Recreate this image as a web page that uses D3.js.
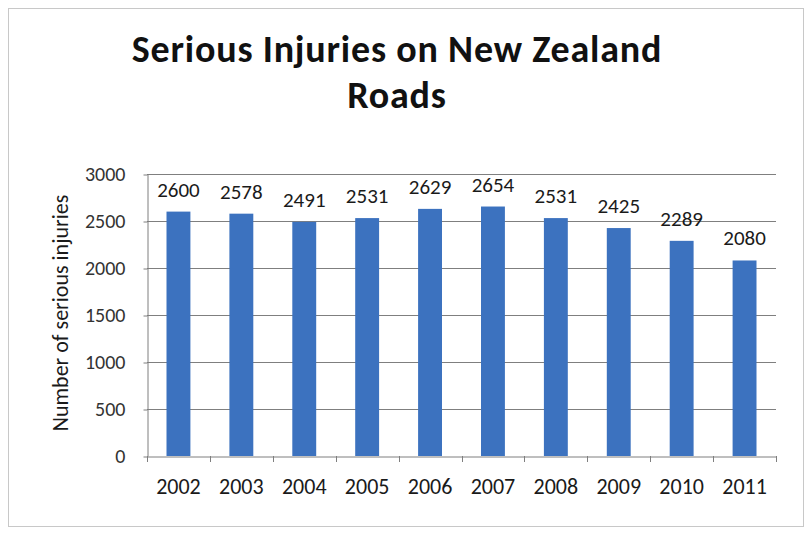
<!DOCTYPE html>
<html>
<head>
<meta charset="utf-8">
<script src="https://cdn.jsdelivr.net/npm/d3@7"></script>
<style>
  html, body { margin: 0; padding: 0; background: #fff; }
  svg { display: block; }
</style>
</head>
<body>
<svg id="chart" width="809" height="535"></svg>
<script>
// Serious injuries per year on New Zealand roads
const years = ["2002","2003","2004","2005","2006","2007","2008","2009","2010","2011"];
const injuries = [2600, 2578, 2491, 2531, 2629, 2654, 2531, 2425, 2289, 2080];
const yTicks = [0, 500, 1000, 1500, 2000, 2500, 3000];
const titleLines = ["Serious Injuries on New Zealand", "Roads"];
const yLabel = "Number of serious injuries";

const svg = d3.select("#chart");
const font = "Calibri, Carlito, 'Open Sans', 'DejaVu Sans', sans-serif";
const axisGrey = "#7f7f7f";

// outer frame
svg.append("rect")
  .attr("x", 8.5).attr("y", 8.5)
  .attr("width", 795).attr("height", 518)
  .attr("fill", "#fff").attr("stroke", "#c8c8c8").attr("stroke-width", 1);

const plot = { left: 147, right: 776, top: 174, bottom: 456 };

const x = d3.scaleBand()
  .domain(years)
  .range([plot.left, plot.right])
  .paddingInner(0.62)
  .paddingOuter(0.31);

const y = d3.scaleLinear()
  .domain([0, 3000])
  .range([plot.bottom, plot.top]);

// gridlines
svg.append("g")
  .selectAll("line")
  .data(yTicks.filter(d => d > 0))
  .join("line")
  .attr("x1", plot.left).attr("x2", plot.right)
  .attr("y1", d => Math.round(y(d)) + 0.5).attr("y2", d => Math.round(y(d)) + 0.5)
  .attr("stroke", axisGrey).attr("stroke-width", 1);

const rows = years.map((yr, i) => ({ yr, v: injuries[i] }));

// bars
svg.append("g")
  .selectAll("rect")
  .data(rows)
  .join("rect")
  .attr("x", d => x(d.yr))
  .attr("width", x.bandwidth())
  .attr("y", d => y(d.v))
  .attr("height", d => y(0) - y(d.v))
  .attr("fill", "#3c72bf");

// value labels
svg.append("g")
  .selectAll("text")
  .data(rows)
  .join("text")
  .attr("x", d => x(d.yr) + x.bandwidth() / 2)
  .attr("y", d => y(d.v) - 15)
  .attr("text-anchor", "middle")
  .attr("font-family", font)
  .attr("font-size", 21)
  .attr("fill", "#1a1a1a")
  .text(d => d.v);

// y axis
const yAxis = svg.append("g")
  .attr("transform", `translate(${plot.left + 0.5},0)`)
  .call(d3.axisLeft(y).tickValues(yTicks).tickFormat(d3.format("d"))
    .tickSize(4).tickSizeOuter(0).tickPadding(18));
yAxis.select(".domain").attr("stroke", axisGrey);
yAxis.selectAll(".tick line").attr("stroke", axisGrey)
  .attr("transform", "translate(0,0.5)");
yAxis.selectAll("text")
  .attr("font-family", font).attr("font-size", 20).attr("fill", "#333");

// x axis with ticks on category boundaries
const xAxis = svg.append("g")
  .attr("transform", `translate(0,${plot.bottom + 0.5})`)
  .call(d3.axisBottom(x).tickSize(0).tickSizeOuter(0));
xAxis.select(".domain").attr("stroke", axisGrey);
xAxis.selectAll("text")
  .attr("y", 37).attr("dy", 0)
  .attr("font-family", font).attr("font-size", 22).attr("fill", "#1a1a1a");

const boundaries = d3.range(years.length + 1)
  .map(i => plot.left + i * (plot.right - plot.left) / years.length);
svg.append("g")
  .selectAll("line")
  .data(boundaries)
  .join("line")
  .attr("x1", d => Math.round(d) + 0.5).attr("x2", d => Math.round(d) + 0.5)
  .attr("y1", plot.bottom).attr("y2", plot.bottom + 6)
  .attr("stroke", axisGrey);

// y axis title
svg.append("text")
  .attr("transform", "translate(68,313) rotate(-90)")
  .attr("text-anchor", "middle")
  .attr("font-family", font)
  .attr("font-size", 22)
  .attr("fill", "#1a1a1a")
  .text(yLabel);

// chart title
const title = svg.append("text")
  .attr("text-anchor", "middle")
  .attr("font-family", font)
  .attr("font-weight", "bold")
  .attr("font-size", 38)
  .attr("letter-spacing", 0.8)
  .attr("fill", "#111");
title.selectAll("tspan")
  .data(titleLines)
  .join("tspan")
  .attr("x", 397)
  .attr("y", (d, i) => 62 + i * 46)
  .text(d => d);
</script>
</body>
</html>
